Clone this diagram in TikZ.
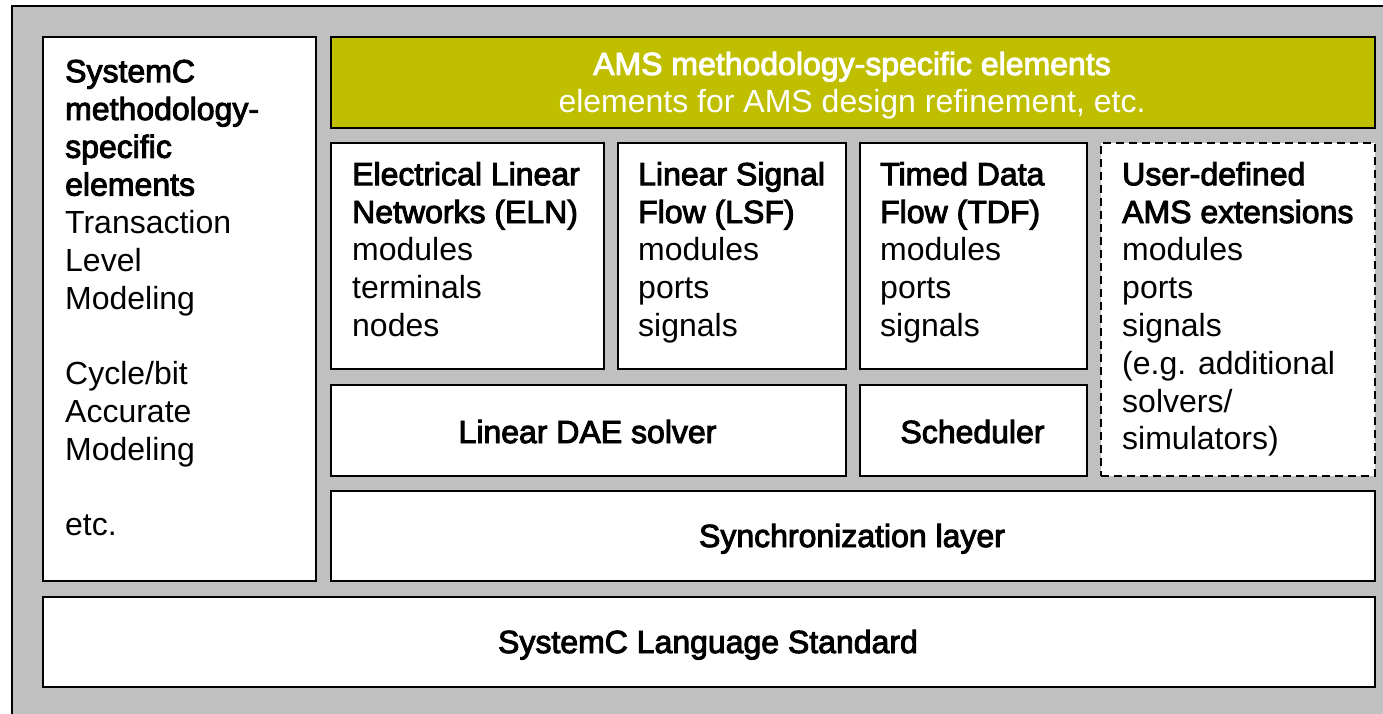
\documentclass[tikz,border=0pt]{standalone}
\usepackage{fontspec}
\setmainfont{Liberation Sans}
\newfontfamily\heavy{Liberation Sans}[FakeBold=3]
\definecolor{panelgray}{RGB}{192,192,192}
\definecolor{amsolive}{RGB}{191,191,0}
\tikzset{
  box/.style={draw=black, line width=2pt, fill=white, inner sep=0pt, anchor=north west},
  dashbox/.style={box, dash pattern=on 8pt off 5pt},
  txt/.style={inner sep=0pt, anchor=north west, align=left,
              font=\fontsize{32pt}{37.8pt}\selectfont},
  ctr/.style={inner sep=0pt, anchor=base,
              font=\heavy\fontsize{32pt}{37.8pt}\selectfont},
}
\newcommand{\firstline}{\rule{0pt}{25pt}}
\begin{document}
\begin{tikzpicture}[x=1pt, y=-1pt]
  \useasboundingbox (0,0) rectangle (1383,714);
  \fill[white] (0,0) rectangle (1383,714);
  % outer frame
  \begin{scope}
    \clip (0,0) rectangle (1383,714);
    \draw[line width=2.5pt, fill=panelgray] (12,6) rectangle (1400,730);
  \end{scope}

  % left column
  \node[box, minimum width=273pt, minimum height=544pt] (sc) at (42,36) {};
  \node[txt] (sctext) at (65,57) {\firstline{\heavy SystemC}\\{\heavy methodology-}\\{\heavy specific}\\{\heavy elements}\\
    Transaction\\Level\\Modeling\\[37.8pt]Cycle/bit\\Accurate\\Modeling\\[37.8pt]etc.};

  % AMS header
  \node[box, fill=amsolive, minimum width=1044pt, minimum height=91pt] (ams) at (330,36) {};
  \node[ctr, text=white] (amst) at (852,75) {AMS methodology-specific elements};
  \node[ctr, text=white, font=\fontsize{32pt}{37.8pt}\selectfont] (amss) at (852,113) {elements for AMS design refinement, etc.};

  % model of computation boxes
  \node[box, minimum width=273pt, minimum height=226pt] (eln) at (330,142) {};
  \node[txt] (elnt) at (352,160) {\firstline{\heavy Electrical Linear}\\{\heavy Networks (ELN)}\\modules\\terminals\\nodes};

  \node[box, minimum width=228pt, minimum height=226pt] (lsf) at (617,142) {};
  \node[txt] (lsft) at (638,160) {\firstline{\heavy Linear Signal}\\{\heavy Flow (LSF)}\\modules\\ports\\signals};

  \node[box, minimum width=227pt, minimum height=226pt] (tdf) at (859,142) {};
  \node[txt] (tdft) at (880,160) {\firstline{\heavy Timed Data}\\{\heavy Flow (TDF)}\\modules\\ports\\signals};

  \node[dashbox, minimum width=274pt, minimum height=333pt] (usr) at (1100,142) {};
  \node[txt] (usrt) at (1122,160) {\firstline{\heavy User-defined}\\{\heavy AMS extensions}\\modules\\ports\\signals\\(e.g. additional\\solvers/\\simulators)};

  % solvers
  \node[box, minimum width=515pt, minimum height=91pt] (dae) at (330,384) {};
  \node[ctr] (daet) at (587.5,443) {Linear DAE solver};
  \node[box, minimum width=227pt, minimum height=91pt] (sch) at (859,384) {};
  \node[ctr] (scht) at (972.5,443) {Scheduler};

  % synchronization and language layers
  \node[box, minimum width=1044pt, minimum height=90pt] (sync) at (330,490) {};
  \node[ctr] (synct) at (852,547) {Synchronization layer};
  \node[box, minimum width=1332pt, minimum height=90pt] (lang) at (42,596) {};
  \node[ctr] (langt) at (708,653) {SystemC Language Standard};
\end{tikzpicture}
\end{document}
